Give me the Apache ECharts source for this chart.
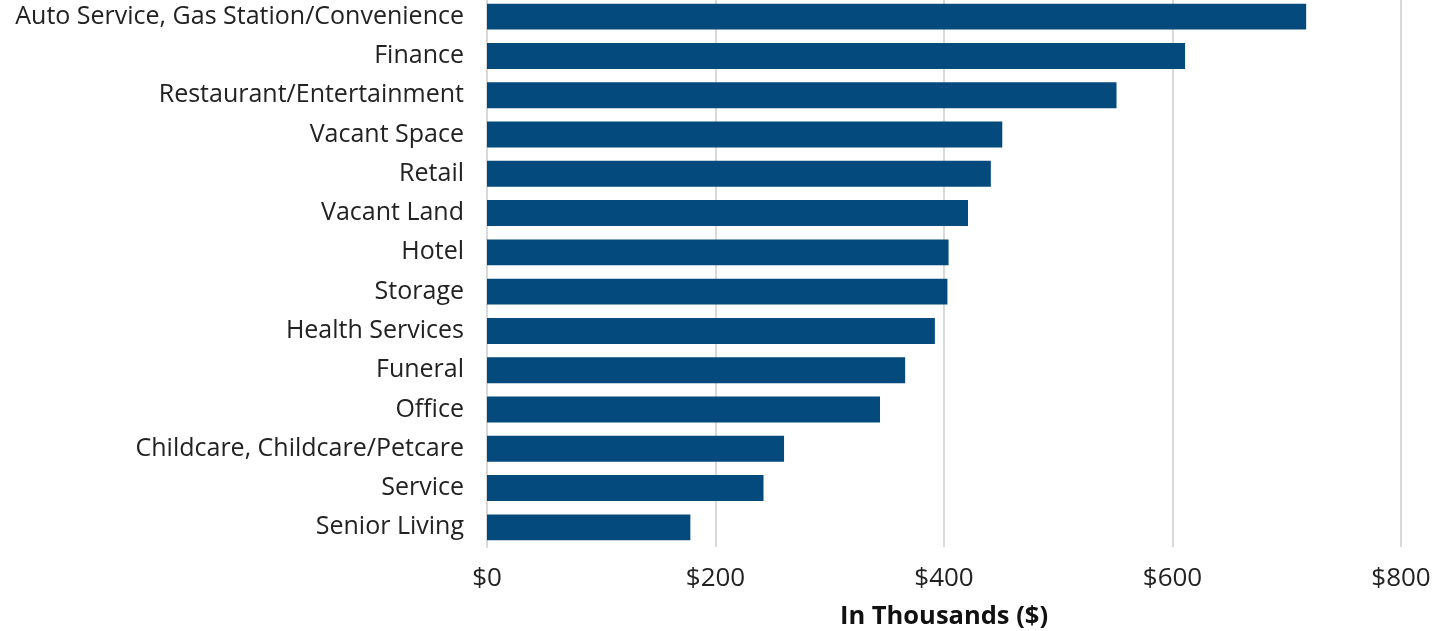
<!DOCTYPE html>
<html>
<head>
<meta charset="utf-8">
<script src="https://cdn.jsdelivr.net/npm/echarts@6/dist/echarts.min.js"></script>
<style>
  html, body { margin: 0; padding: 0; background: #fff; }
  #chart { width: 1445px; height: 631px; }
</style>
</head>
<body>
<div id="chart"></div>
<script>
// Average value by property use, in thousands of dollars
const categories = [
  'Auto Service, Gas Station/Convenience',
  'Finance',
  'Restaurant/Entertainment',
  'Vacant Space',
  'Retail',
  'Vacant Land',
  'Hotel',
  'Storage',
  'Health Services',
  'Funeral',
  'Office',
  'Childcare, Childcare/Petcare',
  'Service',
  'Senior Living'
];
const values = [717, 611, 551, 451, 441, 421, 404, 403, 392, 366, 344, 260, 242, 178];
const tickValues = [0, 200, 400, 600, 800];

const chart = echarts.init(document.getElementById('chart'), null, { renderer: 'canvas' });
const fontFamily = '"Open Sans", "Noto Sans", sans-serif';

chart.setOption({
  animation: false,
  backgroundColor: '#ffffff',
  grid: { left: 487, right: 44, top: -3, bottom: 84, containLabel: false, outerBoundsMode: 'none' },
  xAxis: {
    type: 'value',
    min: tickValues[0],
    max: tickValues[tickValues.length - 1],
    interval: 200,
    name: 'In Thousands ($)',
    nameLocation: 'middle',
    nameGap: 57,
    nameTextStyle: { fontFamily, fontSize: 25.5, fontWeight: 'bold', color: '#111', verticalAlign: 'top' },
    axisLine: { show: false },
    axisTick: { show: false },
    splitLine: { show: true, lineStyle: { color: '#d9d9d9', width: 2 } },
    axisLabel: {
      fontFamily, fontSize: 26, color: '#222', margin: 19,
      formatter: v => '$' + v
    }
  },
  yAxis: {
    type: 'category',
    data: categories,
    inverse: true,
    axisLine: { show: true, lineStyle: { color: '#d9d9d9', width: 2 } },
    axisTick: { show: false },
    axisLabel: { fontFamily, fontSize: 25, color: '#222', margin: 23 }
  },
  series: [{
    type: 'bar',
    data: values,
    barWidth: '66%',
    itemStyle: { color: '#044a7c' }
  }]
});
</script>
</body>
</html>
